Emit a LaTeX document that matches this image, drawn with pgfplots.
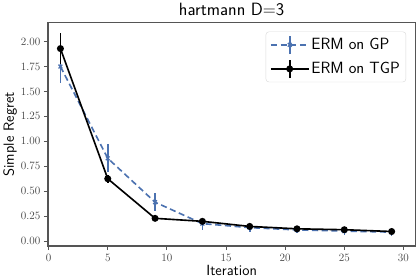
\documentclass[border=0pt]{standalone}
\usepackage{fontspec}
\usepackage{pgfplots}
\pgfplotsset{compat=1.18}
\definecolor{sbblue}{HTML}{4C72B0}
\definecolor{frame}{HTML}{555555}
\pgfplotsset{
 errlegend/.style={legend image code/.code={
   \draw[mark repeat=2, mark phase=2, ##1] plot coordinates {(0bp,0bp) (18.5bp,0bp) (37bp,0bp)};
   \draw[##1, solid, mark=none] (18.5bp,-9bp) -- (18.5bp,9bp);
 }}
}
\begin{document}
\begin{tikzpicture}
\begin{axis}[
 scale only axis, width=360bp, height=219bp,
 xmin=-0.05, xmax=31, ymin=-0.05, ymax=2.19,
 xtick={0,5,10,15,20,25,30},
 ytick={0,0.25,0.5,0.75,1,1.25,1.5,1.75,2},
 /pgf/number format/assume math mode=true,
 yticklabel style={/pgf/number format/.cd, fixed, fixed zerofill, precision=2},
 tick align=outside, tick pos=left,
 major tick length=4bp,
 axis line style={frame, line width=1.4pt},
 every tick/.style={frame, line width=0.9pt},
 tick label style={font=\fontsize{11}{13}\selectfont, text=black!75},
 title={hartmann D=3},
 title style={font=\sffamily\fontsize{17.5}{20}\selectfont, yshift=-3bp},
 xlabel={Iteration}, ylabel={Simple Regret},
 label style={font=\sffamily\fontsize{14.5}{17}\selectfont},
 xlabel style={yshift=3bp},
 ylabel style={yshift=-3bp},
 legend style={at={(0.975,0.96)}, anchor=north east, draw=black!15, rounded corners=3pt,
   font=\sffamily\fontsize{16}{19}\selectfont, inner xsep=4bp, inner ysep=3bp, row sep=4bp},
 legend cell align=left,
]
\addplot[sbblue, dash pattern=on 6bp off 3.5bp, line width=1.6pt, mark=x, mark size=2.6bp,
  mark options={solid, line width=1.3pt}, errlegend,
  error bars/.cd, y dir=both, y explicit,
  error bar style={solid, line width=1.6pt, sbblue}, error mark=none]
 coordinates {
 (1,1.75) +- (0,0.17)
 (5,0.83) +- (0,0.14)
 (9,0.39) +- (0,0.09)
 (13,0.175) +- (0,0.06)
 (17,0.135) +- (0,0.04)
 (21,0.112) +- (0,0.035)
 (25,0.100) +- (0,0.035)
 (29,0.090) +- (0,0.035)
 };
\addlegendentry{ERM on GP}
\addplot[black, solid, line width=1.6pt, mark=*, mark size=2.6bp, errlegend,
  error bars/.cd, y dir=both, y explicit,
  error bar style={solid, line width=1.8pt, black}, error mark=none]
 coordinates {
 (1,1.93) +- (0,0.155)
 (5,0.625) +- (0,0.04)
 (9,0.228) +- (0,0.015)
 (13,0.198) +- (0,0.02)
 (17,0.147) +- (0,0.02)
 (21,0.123) +- (0,0.02)
 (25,0.114) +- (0,0.02)
 (29,0.096) +- (0,0.02)
 };
\addlegendentry{ERM on TGP}
\end{axis}
\end{tikzpicture}
\end{document}
